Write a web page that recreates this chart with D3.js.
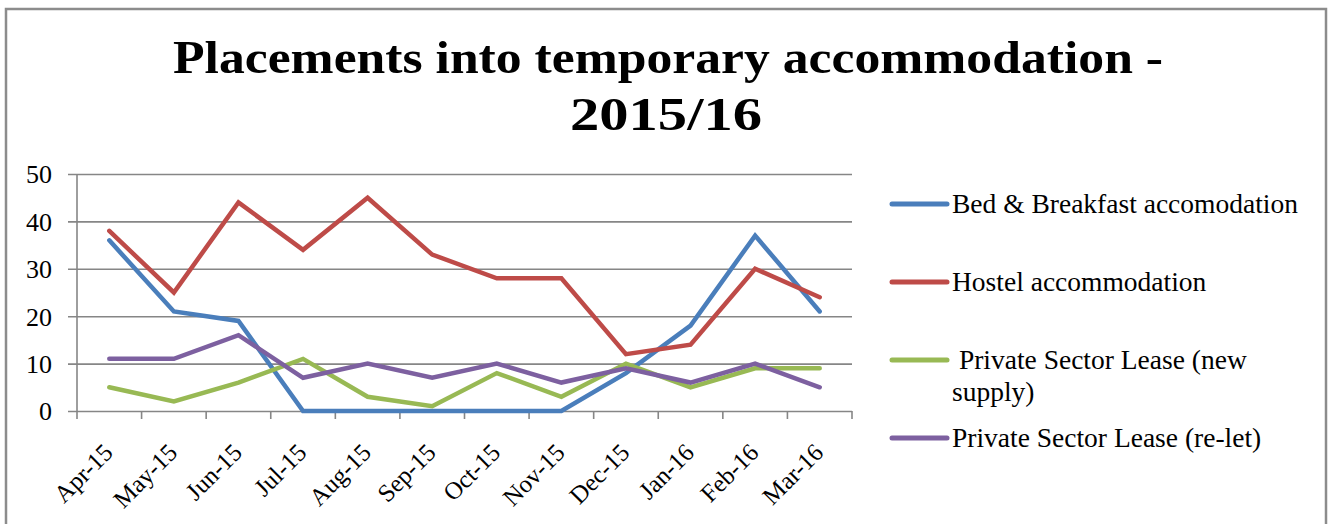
<!DOCTYPE html>
<html>
<head>
<meta charset="utf-8">
<script src="https://cdn.jsdelivr.net/npm/d3@7"></script>
<style>
  body { margin: 0; background: #fff; }
  text { font-family: "Liberation Serif", "DejaVu Serif", serif; fill: #000; }
</style>
</head>
<body>
<div id="chart"></div>
<script>
var months = ["Apr-15", "May-15", "Jun-15", "Jul-15", "Aug-15", "Sep-15",
              "Oct-15", "Nov-15", "Dec-15", "Jan-16", "Feb-16", "Mar-16"];
var bedBreakfast = [36, 21, 19, 0, 0, 0, 0, 0, 8, 18, 37, 21];
var hostel       = [38, 25, 44, 34, 45, 33, 28, 28, 12, 14, 30, 24];
var pslNew       = [5, 2, 6, 11, 3, 1, 8, 3, 10, 5, 9, 9];
var pslRelet     = [11, 11, 16, 7, 10, 7, 10, 6, 9, 6, 10, 5];
var yTicks = [0, 10, 20, 30, 40, 50];

var series = [
  {name: "Bed & Breakfast accomodation", values: bedBreakfast, color: "#4a7ebb"},
  {name: "Hostel accommodation", values: hostel, color: "#be4b48"},
  {name: " Private Sector Lease (new|supply)", values: pslNew, color: "#98b954"},
  {name: "Private Sector Lease (re-let)", values: pslRelet, color: "#7d60a0"}
];

var W = 1329, H = 524;
var svg = d3.select("#chart").append("svg")
  .attr("width", W).attr("height", H);

// work out a font size so a sample string gets a given width
function fitSize(str, target, weight) {
  var t = svg.append("text").style("font-size", "40px")
    .style("font-weight", weight || "normal").text(str);
  var w = t.node().getComputedTextLength();
  t.remove();
  return 40 * target / w;
}
var ySize = fitSize("50", 26);
var xSize = fitSize("Apr-15", 71);
var legSize = fitSize("Bed & Breakfast accomodation", 346);

// outer frame
svg.append("rect")
  .attr("x", 6).attr("y", 9)
  .attr("width", 1320).attr("height", 540)
  .attr("fill", "none")
  .attr("stroke", "#8c8c8c")
  .attr("stroke-width", 2.5);

// title
var title = svg.append("text")
  .attr("text-anchor", "middle")
  .style("font-weight", "bold")
  .style("font-size", "47px");
title.append("tspan").attr("x", 668).attr("y", 73)
  .attr("textLength", 990).attr("lengthAdjust", "spacingAndGlyphs")
  .text("Placements into temporary accommodation -");
title.append("tspan").attr("x", 666).attr("y", 130)
  .attr("textLength", 192).attr("lengthAdjust", "spacingAndGlyphs")
  .text("2015/16");

var x = d3.scaleBand().domain(months).range([77, 852]);
var y = d3.scaleLinear().domain([0, 50]).range([411, 174]);

// gridlines + y labels
svg.append("g")
  .attr("transform", "translate(68,0)")
  .call(d3.axisLeft(y).tickValues(yTicks).tickSize(-(852 - 68)).tickPadding(16))
  .call(g => g.select(".domain").remove())
  .call(g => g.selectAll("line").attr("stroke", "#868686").attr("stroke-width", 1.6))
  .call(g => g.selectAll("text")
    .attr("dy", "0.34em")
    .style("font-size", ySize + "px")
    .style("font-family", "'Liberation Serif', serif"));

// y axis line
svg.append("line")
  .attr("x1", 77).attr("x2", 77)
  .attr("y1", y(50)).attr("y2", 419)
  .attr("stroke", "#868686").attr("stroke-width", 1.6);

// x axis boundary ticks
var bounds = months.map(m => x(m)).concat([x(months[months.length - 1]) + x.bandwidth()]);
svg.selectAll(".xtick").data(bounds.slice(1)).enter().append("line")
  .attr("x1", d => d).attr("x2", d => d)
  .attr("y1", y(0)).attr("y2", 419)
  .attr("stroke", "#868686").attr("stroke-width", 1.6);

// x labels
svg.selectAll(".xlab").data(months).enter().append("text")
  .attr("text-anchor", "end")
  .attr("transform", d => "translate(" + (x(d) + x.bandwidth() / 2 + 5) + ",454) rotate(-45)")
  .style("font-size", xSize + "px")
  .text(d => d);

// lines
var line = d3.line()
  .x((d, i) => x(months[i]) + x.bandwidth() / 2)
  .y(d => y(d));

svg.selectAll(".series").data(series).enter().append("path")
  .attr("fill", "none")
  .attr("stroke", d => d.color)
  .attr("stroke-width", 4.5)
  .attr("stroke-linejoin", "miter")
  .attr("stroke-linecap", "round")
  .attr("d", d => line(d.values));

// legend
var legendY = [204, 282, 360, 438];
var leg = svg.selectAll(".leg").data(series).enter().append("g")
  .attr("transform", (d, i) => "translate(892," + legendY[i] + ")");
leg.append("line")
  .attr("x1", 0).attr("x2", 55)
  .attr("stroke", d => d.color)
  .attr("stroke-width", 5)
  .attr("stroke-linecap", "round");
leg.append("text")
  .style("font-size", legSize + "px")
  .each(function(d) {
    var parts = d.name.split("|");
    var t = d3.select(this);
    parts.forEach((p, k) => {
      t.append("tspan").attr("x", 60).attr("y", 9 + k * 32)
        .attr("xml:space", "preserve")
        .style("white-space", "pre")
        .text(p);
    });
  });
</script>
</body>
</html>
